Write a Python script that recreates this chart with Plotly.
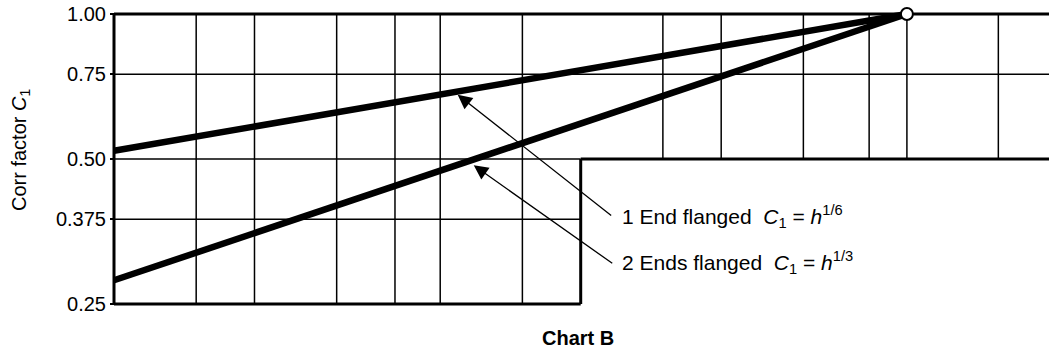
import math
import plotly.graph_objects as go

# chart values
h_grid_full = [0.03, 0.04, 0.06, 0.08, 0.1, 0.15]      # verticals over whole height
h_grid_upper = [0.3, 0.4, 0.6, 0.83, 1.0, 1.57]        # verticals only above C1 = 0.5
c_ticks = [0.25, 0.375, 0.5, 0.75, 1.0]
c_tick_text = ["0.25", "0.375", "0.50", "0.75", "1.00"]
h_min, h_step, h_max = 0.02, 0.2, 2.02
c_min, c_step, c_max = 0.25, 0.5, 1.0

h_curve = [0.02, 1.0]
c_one_end = [0.52, 1.0]
c_two_ends = [0.28, 1.0]

arrow_h = [0.109, 0.118]
arrow_c = [0.68, 0.485]
labels = ["1 End flanged  <i>C</i><sub>1</sub> = <i>h</i><sup>1/6</sup>",
          "2 Ends flanged  <i>C</i><sub>1</sub> = <i>h</i><sup>1/3</sup>"]

FONT = "Liberation Sans, Arial, sans-serif"
W, H = 1049, 352
KX, KY = 466.7, 481.7     # px per decade
PAD = 8
L = 114 - PAD
T = 14 - PAD
B = H - (304 + PAD)
PW, PH = W - L, H - T - B


def segs(pairs):
    xs, ys = [], []
    for (x0, y0), (x1, y1) in pairs:
        xs += [x0, x1, None]
        ys += [y0, y1, None]
    return xs, ys


thin = []
for h in h_grid_full:
    thin.append(((h, c_min), (h, c_max)))
for h in h_grid_upper:
    thin.append(((h, c_step), (h, c_max)))
thin.append(((h_min, 0.75), (h_max, 0.75)))
thin.append(((h_min, 0.375), (h_step, 0.375)))
thin.append(((h_min, c_step), (h_step, c_step)))

thick = [((h_min, c_max), (h_max, c_max)),
         ((h_min, c_min), (h_min, c_max)),
         ((h_min, c_min), (h_step, c_min)),
         ((h_step, c_min), (h_step, c_step)),
         ((h_step, c_step), (h_max, c_step))]

fig = go.Figure()
gx, gy = segs(thin)
fig.add_trace(go.Scatter(x=gx, y=gy, mode="lines", line=dict(color="black", width=1.5),
                         hoverinfo="skip"))
fx, fy = segs(thick)
fig.add_trace(go.Scatter(x=fx, y=fy, mode="lines", line=dict(color="black", width=3),
                         hoverinfo="skip"))
fig.add_trace(go.Scatter(x=h_curve, y=c_one_end, mode="lines",
                         line=dict(color="black", width=6.5)))
fig.add_trace(go.Scatter(x=h_curve, y=c_two_ends, mode="lines",
                         line=dict(color="black", width=6.5)))
fig.add_trace(go.Scatter(x=[h_curve[-1]], y=[c_one_end[-1]], mode="markers", cliponaxis=False,
                         marker=dict(size=12, color="white", line=dict(color="black", width=2))))

tails = [(155, 122), (140, 99)]
for h, c, (ax, ay) in zip(arrow_h, arrow_c, tails):
    fig.add_annotation(x=math.log10(h), y=math.log10(c), xref="x", yref="y", text="",
                       showarrow=True, ax=ax, ay=ay, arrowhead=2, arrowsize=2.2,
                       arrowwidth=1.3, arrowcolor="black")

for txt, py in zip(labels, [216, 262]):
    fig.add_annotation(x=(620 - L) / PW, y=(H - B - py) / PH, xref="paper", yref="paper",
                       text=txt, showarrow=False, xanchor="left", yanchor="middle",
                       font=dict(family=FONT, size=21, color="black"))

fig.add_annotation(x=(20 - L) / PW, y=(H - B - 150) / PH, xref="paper", yref="paper",
                   text="Corr factor <i>C</i><sub>1</sub>", textangle=-90, showarrow=False,
                   xanchor="center", yanchor="middle", font=dict(family=FONT, size=20, color="black"))
fig.add_annotation(x=(578 - L) / PW, y=(H - B - 338) / PH, xref="paper", yref="paper",
                   text="<b>Chart B</b>", showarrow=False, xanchor="center", yanchor="middle",
                   font=dict(family=FONT, size=20, color="black"))

fig.update_layout(
    width=W, height=H, margin=dict(l=L, r=0, t=T, b=B),
    plot_bgcolor="white", paper_bgcolor="white", showlegend=False,
    xaxis=dict(type="log", range=[math.log10(h_min) - PAD / KX, math.log10(h_min) + (W - 114) / KX],
               showgrid=False, zeroline=False, showline=False, showticklabels=False, ticks=""),
    yaxis=dict(type="log", range=[math.log10(c_min) - PAD / KY, math.log10(c_max) + PAD / KY],
               anchor="free", position=PAD / PW,
               tickvals=c_ticks, ticktext=c_tick_text, ticks="outside", ticklen=4,
               tickwidth=1.5, tickcolor="black", ticklabelstandoff=0,
               tickfont=dict(family=FONT, size=20, color="black"),
               showgrid=False, zeroline=False, showline=False),
)
# page body margin would shift the fixed-size figure
fig.write_html("out.html", config={"displayModeBar": False},
               post_script="document.body.style.margin='0';")
